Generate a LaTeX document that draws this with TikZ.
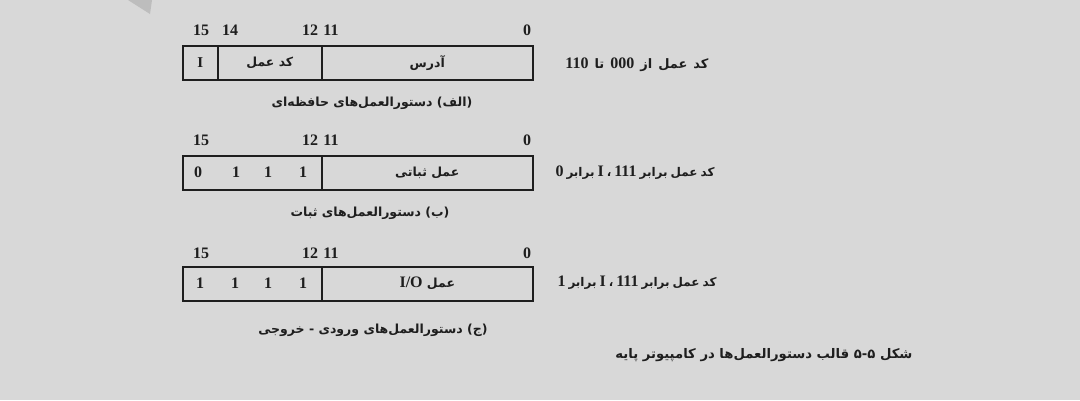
\documentclass[tikz,border=0pt]{standalone}
\usepackage{fontspec}
\setmainfont{Liberation Serif}
\newfontfamily\ar[Script=Arabic]{DejaVu Sans}
\TeXXeTstate=1
\newcommand\latn[1]{\beginL{\rmfamily\bfseries\fontsize{16}{16}\selectfont #1}\endL}
\newcommand\widesp{\spaceskip=6pt plus 1pt\relax}
\newcommand\narrowsp{\spaceskip=3pt plus 1pt\relax}
\definecolor{bg}{HTML}{D8D8D8}
\definecolor{ink}{HTML}{1E1E1E}
\definecolor{smudge}{HTML}{BDBDBD}
\begin{document}
\begin{tikzpicture}[x=1pt,y=-1pt,
  field/.style={draw=ink, line width=1.6pt, minimum height=34pt, inner sep=0pt, anchor=north west, text=ink, font=\ar\bfseries\fontsize{12.5}{14}\selectfont},
  bit/.style={text=ink, font=\bfseries\fontsize{16}{16}\selectfont, inner sep=0pt},
  lab/.style={text=ink, font=\ar\bfseries\fontsize{12.5}{14}\selectfont, inner sep=0pt},
  widelab/.style={lab, font=\ar\bfseries\fontsize{13}{14}\selectfont\widesp},
  narrowlab/.style={lab, font=\ar\bfseries\fontsize{12}{14}\selectfont\narrowsp},
  figcap/.style={text=ink, font=\ar\bfseries\fontsize{13.2}{16}\selectfont, inner sep=0pt}]
\useasboundingbox (0,0) rectangle (1080,400);
\fill[bg] (0,0) rectangle (1080,400);
\fill[smudge] (128,0) -- (152,0) -- (150,14) -- cycle;

% ---------- (a) memory reference
\node[bit] (a15) at (201,30) {15};
\node[bit] (a14) at (230,30) {14};
\node[bit] (a12) at (310,30) {12};
\node[bit] (a11) at (331,30) {11};
\node[bit] (a0)  at (527,30) {0};
\node[field, minimum width=35pt]  (aI)   at (182,45) {\rmfamily\bfseries\fontsize{15}{15}\selectfont I};
\node[field, minimum width=104pt] (aop)  at (217,45) {\beginR کد عمل\endR};
\node[field, minimum width=211pt] (aadr) at (321,45) {\beginR آدرس\endR};
\node[widelab] (arl) at (637,65) {\beginR کد عمل از \latn{000} تا \latn{110}\endR};
\node[lab] (acap) at (372,103) {\beginR (الف) دستورالعمل‌های حافظه‌ای\endR};

% ---------- (b) register reference
\node[bit] (b15) at (201,140) {15};
\node[bit] (b12) at (310,140) {12};
\node[bit] (b11) at (331,140) {11};
\node[bit] (b0)  at (527,140) {0};
\node[field, minimum width=139pt] (bop) at (182,155) {};
\node[field, minimum width=211pt] (breg) at (321,155) {\beginR عمل ثباتی\endR};
\node[bit] (bb15) at (198,172) {0};
\node[bit] (bb14) at (236,172) {1};
\node[bit] (bb13) at (268,172) {1};
\node[bit] (bb12) at (303,172) {1};
\node[narrowlab] (brl) at (635,173) {\beginR کد عمل برابر \latn{111} ، \latn{I} برابر \latn{0}\endR};
\node[lab] (bcap) at (370,213) {\beginR (ب) دستورالعمل‌های ثبات\endR};

% ---------- (c) input-output
\node[bit] (c15) at (201,253) {15};
\node[bit] (c12) at (310,253) {12};
\node[bit] (c11) at (331,253) {11};
\node[bit] (c0)  at (527,253) {0};
\node[field, minimum width=139pt] (cop) at (182,266) {};
\node[field, minimum width=211pt] (cio) at (321,266) {\beginR عمل \latn{I/O}\endR};
\node[bit] (cc15) at (200,283) {1};
\node[bit] (cc14) at (235,283) {1};
\node[bit] (cc13) at (268,283) {1};
\node[bit] (cc12) at (303,283) {1};
\node[narrowlab] (crl) at (637,283) {\beginR کد عمل برابر \latn{111} ، \latn{I} برابر \latn{1}\endR};
\node[lab] (ccap) at (373,330) {\beginR (ج) دستورالعمل‌های ورودی - خروجی\endR};

% ---------- figure caption
\node[figcap] (fig) at (764,355) {\beginR شکل ۵-۵  قالب دستورالعمل‌ها در کامپیوتر پایه\endR};
\end{tikzpicture}
\end{document}
